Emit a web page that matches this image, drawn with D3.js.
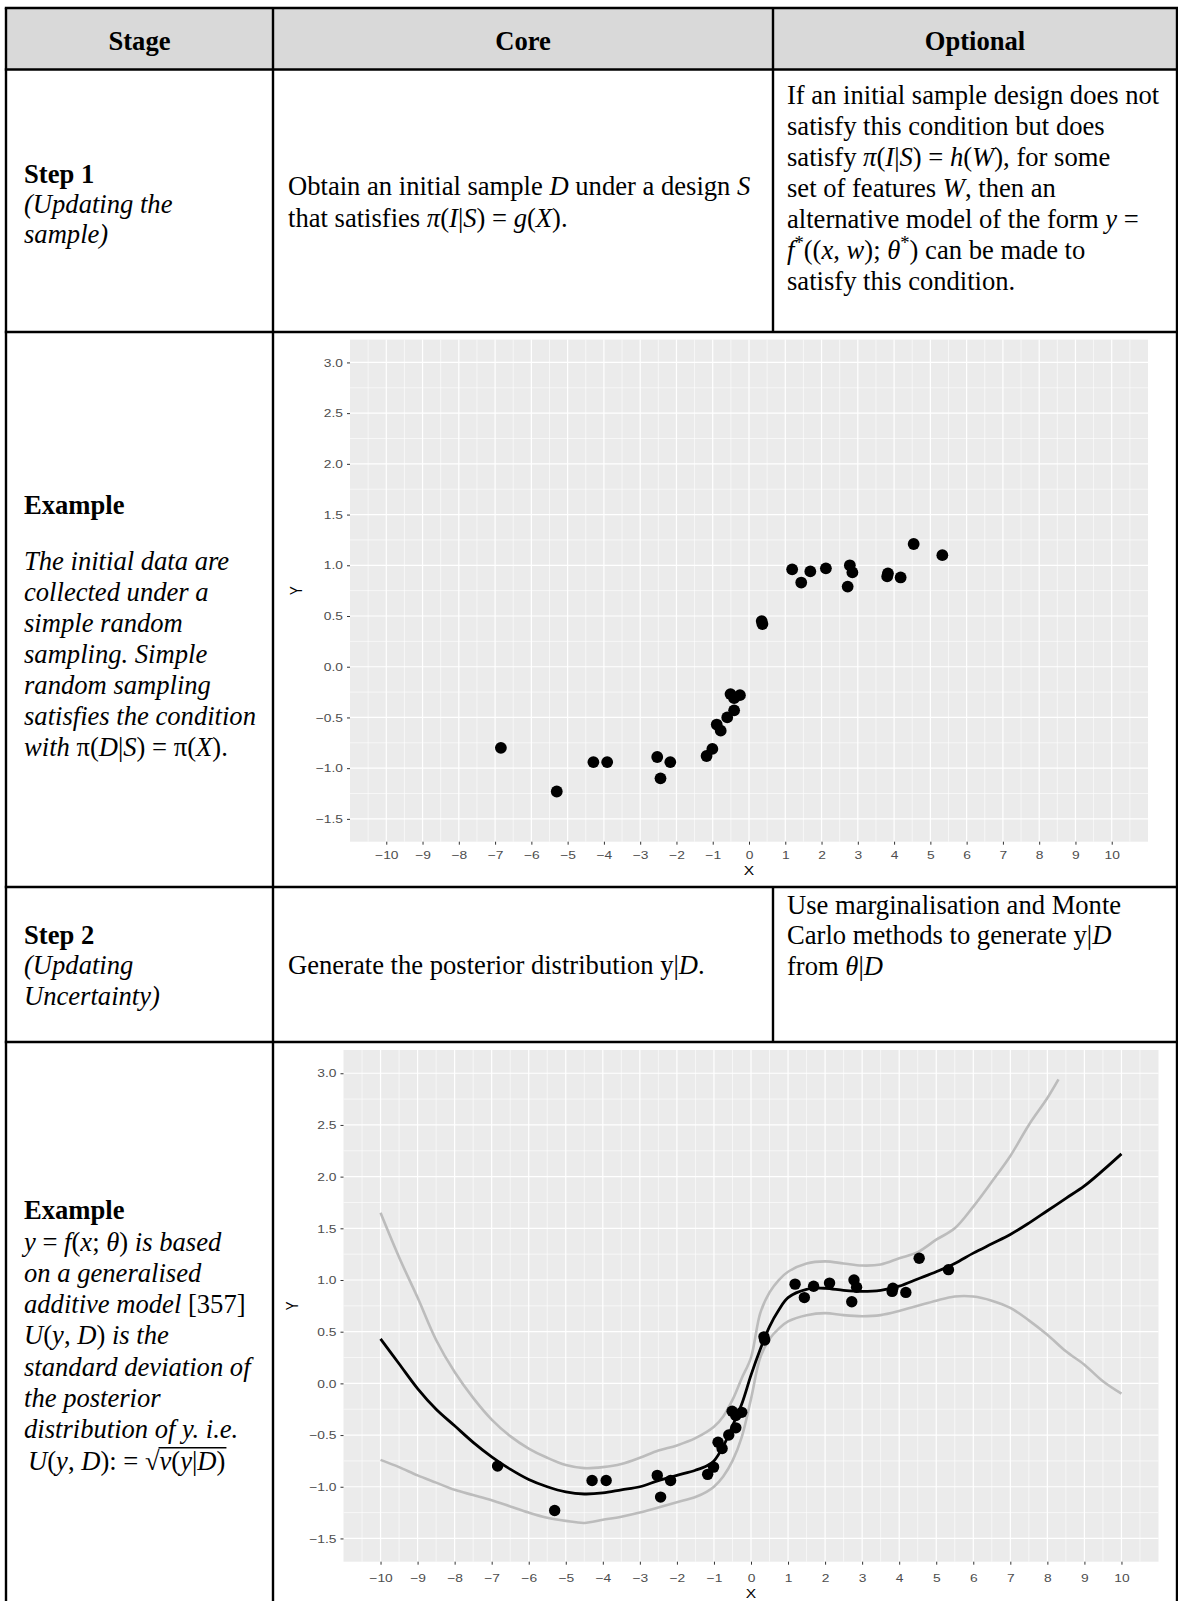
<!DOCTYPE html>
<html>
<head>
<meta charset="utf-8">
<script src="https://cdn.jsdelivr.net/npm/d3@7"></script>
<style>
body { margin: 0; background: #fff; }
</style>
</head>
<body>
<div id="chart"></div>
<script>
///data: observed sample (same points in both plots)
const ptX = [-6.84, -5.30, -4.29, -3.91, -2.53, -2.44, -2.17, -1.17, -1.01, -0.89,
  -0.78, -0.60, -0.51, -0.41, -0.41, -0.25, 0.35, 0.37, 1.19, 1.44,
  1.69, 2.12, 2.72, 2.78, 2.85, 3.83, 3.81, 4.18, 4.54, 5.33];
const ptY = [-0.80, -1.23, -0.94, -0.94, -0.89, -1.10, -0.94, -0.88, -0.81, -0.57,
  -0.63, -0.50, -0.27, -0.31, -0.43, -0.28, 0.45, 0.42, 0.96, 0.83,
  0.94, 0.97, 0.79, 1.00, 0.93, 0.92, 0.89, 0.88, 1.21, 1.10];
///data: posterior mean and bands
const curveX = [-10, -9.5, -9, -8.5, -8, -7.5, -7, -6.5, -6, -5.5, -5, -4.5, -4, -3.5, -3,
  -2.5, -2, -1.5, -1.2, -1, -0.75, -0.5, -0.25, 0, 0.25, 0.5, 0.75, 1, 1.5, 2,
  2.5, 3, 3.5, 4, 4.5, 5, 5.5, 6, 6.5, 7, 7.5, 8, 8.5, 9, 9.5, 10];
const meanY = [0.43, 0.19, -0.05, -0.25, -0.41, -0.57, -0.71, -0.83, -0.93, -1.00, -1.05, -1.07, -1.06, -1.03, -1.00,
  -0.94, -0.89, -0.84, -0.80, -0.75, -0.61, -0.41, -0.20, 0.08, 0.33, 0.55, 0.71, 0.83, 0.91, 0.92,
  0.90, 0.89, 0.90, 0.94, 1.01, 1.08, 1.16, 1.26, 1.35, 1.44, 1.55, 1.67, 1.79, 1.91, 2.06, 2.22];
const lowerY = [-0.74, -0.81, -0.89, -0.96, -1.03, -1.08, -1.13, -1.19, -1.25, -1.30, -1.33, -1.35, -1.32, -1.29, -1.25,
  -1.20, -1.15, -1.10, -1.05, -1.00, -0.90, -0.75, -0.52, -0.15, 0.25, 0.43, 0.53, 0.60, 0.66, 0.68,
  0.66, 0.65, 0.66, 0.70, 0.75, 0.80, 0.84, 0.84, 0.80, 0.73, 0.61, 0.47, 0.31, 0.18, 0.02, -0.10];
const upperX = [-10, -9.5, -9, -8.5, -8, -7.5, -7, -6.5, -6, -5.5, -5, -4.5, -4, -3.5, -3,
  -2.5, -2, -1.5, -1, -0.75, -0.5, -0.25, 0, 0.25, 0.5, 0.75, 1, 1.5, 2,
  2.5, 3, 3.5, 4, 4.5, 5, 5.5, 6, 6.5, 7, 7.5, 8, 8.3];
const upperY = [1.65, 1.22, 0.83, 0.42, 0.11, -0.14, -0.35, -0.51, -0.63, -0.72, -0.79, -0.82, -0.81, -0.78, -0.72,
  -0.65, -0.60, -0.53, -0.42, -0.32, -0.16, 0.05, 0.25, 0.68, 0.88, 1.00, 1.08, 1.16, 1.18,
  1.16, 1.14, 1.15, 1.21, 1.27, 1.39, 1.50, 1.71, 1.95, 2.20, 2.50, 2.76, 2.94];
///ticks
const xTicks = [-10, -9, -8, -7, -6, -5, -4, -3, -2, -1, 0, 1, 2, 3, 4, 5, 6, 7, 8, 9, 10];
const yTicks = [-1.5, -1.0, -0.5, 0.0, 0.5, 1.0, 1.5, 2.0, 2.5, 3.0];

///vars
const w = 1178, h = 1601;
const FS = 26.6;
const serif = "'Liberation Serif','Times New Roman',serif";
const sans = "'Liberation Sans',Arial,sans-serif";
const colX = [6, 273, 773, 1177];
const rowY = [8, 69.5, 332, 887, 1042];
const sx = 1.2; // plot text in the picture is wider than it is tall

const svg = d3.select("#chart").append("svg")
  .attr("width", w).attr("height", h)
  .style("display", "block");

///text helper: '*' switches between the base style and the other one
function rich(x, y, str, base, anchor) {
  const t = svg.append("text").attr("x", x).attr("y", y)
    .attr("font-family", serif).attr("font-size", FS).attr("fill", "#000");
  if (anchor) t.attr("text-anchor", anchor);
  const parts = Array.isArray(str) ? str : str.split("*").map((s, i) => [s, ((base === "i") !== (i % 2 === 1)) ? "i" : "n"]);
  parts.forEach(p => {
    if (!p[0]) return;
    const sp = t.append("tspan").text(p[0]);
    sp.attr("font-style", p[1] === "i" ? "italic" : "normal");
    if (base === "b") sp.attr("font-weight", "bold");
    if (p[1] === "s") sp.attr("font-size", FS * 0.7).attr("baseline-shift", "super");
  });
  return t;
}

///table
svg.append("rect").attr("x", colX[0]).attr("y", rowY[0])
  .attr("width", colX[3] - colX[0]).attr("height", rowY[1] - rowY[0])
  .attr("fill", "#d9d9d9");

///plots
function drawPlot(box, withCurves) {
  const x = d3.scaleLinear().domain([-11, 11]).range([box.l, box.r]);
  const y = d3.scaleLinear().domain([-1.725, 3.225]).range([box.b, box.t]);
  const g = svg.append("g");
  g.append("rect").attr("x", box.l).attr("y", box.t)
    .attr("width", box.r - box.l).attr("height", box.b - box.t)
    .attr("fill", "#ebebeb");
  const xMinor = d3.range(-10.5, 11, 1), yMinor = d3.range(-1.25, 3.0, 0.5);
  g.selectAll(".vmin").data(xMinor).join("line").attr("class", "vmin")
    .attr("x1", d => x(d)).attr("x2", d => x(d)).attr("y1", box.t).attr("y2", box.b)
    .attr("stroke", "#fff").attr("stroke-width", 0.6);
  g.selectAll(".hmin").data(yMinor).join("line").attr("class", "hmin")
    .attr("y1", d => y(d)).attr("y2", d => y(d)).attr("x1", box.l).attr("x2", box.r)
    .attr("stroke", "#fff").attr("stroke-width", 0.6);
  g.selectAll(".vmaj").data(xTicks).join("line").attr("class", "vmaj")
    .attr("x1", d => x(d)).attr("x2", d => x(d)).attr("y1", box.t).attr("y2", box.b)
    .attr("stroke", "#fff").attr("stroke-width", 1.2);
  g.selectAll(".hmaj").data(yTicks).join("line").attr("class", "hmaj")
    .attr("y1", d => y(d)).attr("y2", d => y(d)).attr("x1", box.l).attr("x2", box.r)
    .attr("stroke", "#fff").attr("stroke-width", 1.2);

  const bottom = g.append("g").attr("transform", "translate(0," + box.b + ")")
    .call(d3.axisBottom(x).tickValues(xTicks).tickSize(3).tickPadding(box.pad).tickFormat(d3.format("d")));
  const left = g.append("g").attr("transform", "translate(" + box.l + ",0)")
    .call(d3.axisLeft(y).tickValues(yTicks).tickSize(3).tickPadding(4).tickFormat(d3.format(".1f")));
  [bottom, left].forEach(a => {
    a.select(".domain").remove();
    a.selectAll("line").attr("stroke", "#333");
    a.selectAll("text").attr("fill", "#4d4d4d").attr("font-family", sans).attr("font-size", 11.5)
      .attr("transform", "scale(" + sx + ",1)");
  });
  left.selectAll("text").attr("x", -7 / sx);

  g.append("text").attr("transform", "translate(" + (box.l + box.r) / 2 + "," + box.xt + ") scale(" + sx + ",1)")
    .attr("text-anchor", "middle").attr("font-family", sans).attr("font-size", 13)
    .text("X");
  g.append("text").attr("transform", "translate(" + box.yt + "," + (box.t + box.b) / 2 + ") rotate(-90) scale(1," + sx + ")")
    .attr("text-anchor", "middle").attr("font-family", sans).attr("font-size", 13)
    .text("Y");

  if (withCurves) {
    const line = d3.line().x(d => x(d[0])).y(d => y(d[1])).curve(d3.curveCatmullRom);
    const band = [d3.zip(upperX, upperY), d3.zip(curveX, lowerY)];
    g.selectAll(".band").data(band).join("path").attr("class", "band")
      .attr("d", line).attr("fill", "none").attr("stroke", "#bcbcbc").attr("stroke-width", 2.6);
    g.append("path").datum(d3.zip(curveX, meanY)).attr("d", line)
      .attr("fill", "none").attr("stroke", "#000").attr("stroke-width", 2.8);
  }

  g.selectAll(".pt").data(d3.zip(ptX, ptY)).join("circle").attr("class", "pt")
    .attr("cx", d => x(d[0])).attr("cy", d => y(d[1])).attr("r", box.r0).attr("fill", "#000");
}

drawPlot({l: 350, r: 1148, t: 339.6, b: 841.7, xt: 875, yt: 302, r0: 5.9, pad: 6}, false);
drawPlot({l: 343.5, r: 1158.5, t: 1050, b: 1561.7, xt: 1598, yt: 298, r0: 5.7, pad: 9}, true);

///grid lines of the table
const hl = [[rowY[0], colX[0], colX[3]], [rowY[1], colX[0], colX[3]], [rowY[2], colX[0], colX[3]],
  [rowY[3], colX[0], colX[3]], [rowY[4], colX[0], colX[3]]];
svg.selectAll(".hl").data(hl).join("line").attr("class", "hl")
  .attr("x1", d => d[1] - 1.2).attr("x2", d => d[2] + 1.2).attr("y1", d => d[0]).attr("y2", d => d[0])
  .attr("stroke", "#000").attr("stroke-width", 2.4);
const vl = [[colX[0], rowY[0], h], [colX[1], rowY[0], h], [colX[2], rowY[0], rowY[2]],
  [colX[2], rowY[3], rowY[4]], [colX[3], rowY[0], h]];
svg.selectAll(".vl").data(vl).join("line").attr("class", "vl")
  .attr("x1", d => d[0]).attr("x2", d => d[0]).attr("y1", d => d[1]).attr("y2", d => d[2])
  .attr("stroke", "#000").attr("stroke-width", 2.4);

///header
rich((colX[0] + colX[1]) / 2, 49.5, "Stage", "b", "middle");
rich((colX[1] + colX[2]) / 2, 49.5, "Core", "b", "middle");
rich((colX[2] + colX[3]) / 2, 49.5, "Optional", "b", "middle");

///step 1
const tx0 = 24, tx1 = 288, tx2 = 787;
rich(tx0, 182.5, "Step 1", "b");
rich(tx0, 212.5, "(Updating the", "i");
rich(tx0, 242.5, "sample)", "i");
rich(tx1, 195, "Obtain an initial sample *D* under a design *S*", "n");
rich(tx1, 227, "that satisfies *π*(*I*|*S*) = *g*(*X*).", "n");
const opt1 = [
  "If an initial sample design does not",
  "satisfy this condition but does",
  "satisfy *π*(*I*|*S*) = *h*(*W*), for some",
  "set of features *W*, then an",
  "alternative model of the form *y* =",
  [["f", "i"], ["*", "s"], ["((", "n"], ["x", "i"], [", ", "n"], ["w", "i"], ["); ", "n"], ["θ", "i"], ["*", "s"], [") can be made to", "n"]],
  "satisfy this condition."
];
opt1.forEach((s, i) => rich(tx2, 103.5 + i * 31, s, "n"));

///example 1
rich(tx0, 513.5, "Example", "b");
const ex1 = [
  "The initial data are",
  "collected under a",
  "simple random",
  "sampling. Simple",
  "random sampling",
  "satisfies the condition",
  "with *π(*D*|*S*) = π(*X*)."
];
ex1.forEach((s, i) => rich(tx0, 570 + i * 31, s, "i"));

///step 2
rich(tx0, 944, "Step 2", "b");
rich(tx0, 974, "(Updating", "i");
rich(tx0, 1005, "Uncertainty)", "i");
rich(tx1, 974, "Generate the posterior distribution y|*D*.", "n");
rich(tx2, 914, "Use marginalisation and Monte", "n");
rich(tx2, 944, "Carlo methods to generate y|*D*", "n");
rich(tx2, 975, "from *θ*|*D*", "n");

///example 2
rich(tx0, 1219, "Example", "b");
const ex2 = [
  "y* = *f*(*x*; *θ*)* is based",
  "on a generalised",
  "additive model *[357]",
  "U*(*y*, *D*)* is the",
  "standard deviation of",
  "the posterior",
  "distribution of y. i.e."
];
ex2.forEach((s, i) => rich(tx0, 1250.5 + i * 31.3, s, "i"));
const yLast = 1250.5 + 7 * 31.3;
const sq = rich(tx0 + 4, yLast, "U*(*y*, *D*): = √", "i");
const sqEnd = tx0 + 4 + sq.node().getComputedTextLength();
const rad = rich(sqEnd, yLast, "v*(*y*|*D*)", "i");
svg.append("line").attr("x1", sqEnd - 1).attr("x2", sqEnd + rad.node().getComputedTextLength() + 1)
  .attr("y1", yLast - FS * 0.82).attr("y2", yLast - FS * 0.82)
  .attr("stroke", "#000").attr("stroke-width", 1.4);
</script>
</body>
</html>
